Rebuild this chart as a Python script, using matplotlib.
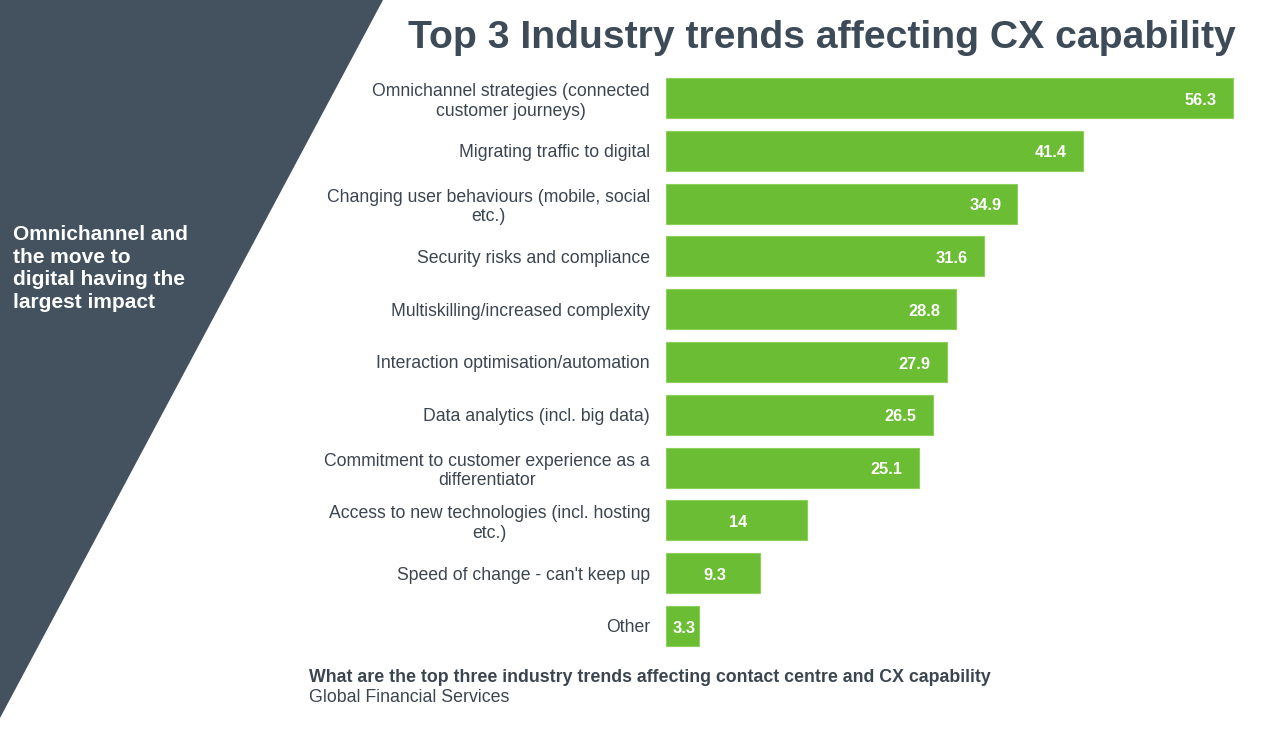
import matplotlib.pyplot as plt
from matplotlib.patches import Polygon

# Datos del gráfico
categorias = [
    'Omnichannel strategies (connected\ncustomer journeys)',
    'Migrating traffic to digital',
    'Changing user behaviours (mobile, social\netc.)',
    'Security risks and compliance',
    'Multiskilling/increased complexity',
    'Interaction optimisation/automation',
    'Data analytics (incl. big data)',
    'Commitment to customer experience as a\ndifferentiator',
    'Access to new technologies (incl. hosting\netc.)',
    "Speed of change - can't keep up",
    'Other',
]
valores = [56.3, 41.4, 34.9, 31.6, 28.8, 27.9, 26.5, 25.1, 14, 9.3, 3.3]

titulo = 'Top 3 Industry trends affecting CX capability'
lateral = 'Omnichannel and\nthe move to\ndigital having the\nlargest impact'
pregunta = 'What are the top three industry trends affecting contact centre and CX capability'
fuente = 'Global Financial Services'

plt.rcParams['font.family'] = ['Liberation Sans', 'DejaVu Sans']

W, H = 1280, 740
fig = plt.figure(figsize=(W / 100, H / 100), dpi=100)
fig.patch.set_facecolor('white')

oscuro = '#44525f'
texto = '#3b4550'
verde = '#6bbd33'

# Triángulo lateral
tri = Polygon([(0, 1), (383 / W, 1), (0, 1 - 718 / H)], closed=True,
              transform=fig.transFigure, facecolor=oscuro, edgecolor='none')
fig.patches.append(tri)

fig.text(13 / W, 1 - 225 / H, lateral, color='white', fontsize=15,
         fontweight='bold', va='top', ha='left', linespacing=1.24)

fig.text(1236 / W, 1 - 38 / H, titulo, color='#3d4a57', fontsize=28.2,
         fontweight='bold', ha='right', va='center')

ax = fig.add_axes([666 / W, 1 - 652.4 / H, 584 / W, 580.8 / H])
pos = list(range(len(valores)))
ax.barh(pos, valores, height=0.76, color=verde, edgecolor='#8cd05a', linewidth=0.8)
ax.set_xlim(0, 58.0)
ax.set_ylim(len(valores) - 0.5, -0.5)
ax.set_yticks(pos)
ax.set_yticklabels(categorias, fontsize=12.7, color=texto, linespacing=1.2)
for lbl in ax.get_yticklabels():
    lbl.set_multialignment('center')
ax.tick_params(axis='y', length=0, pad=11.5)
ax.set_xticks([])
for s in ax.spines.values():
    s.set_visible(False)

for p, v in zip(pos, valores):
    etiqueta = f'{v:g}'
    if v >= 20:
        ax.text(v - 1.6, p + 0.04, etiqueta, ha='right', va='center', color='white',
                fontsize=11.8, fontweight='bold')
    else:
        ax.text(v / 2 + 0.2, p + 0.04, etiqueta, ha='center', va='center', color='white',
                fontsize=11.8, fontweight='bold')

fig.text(309 / W, 1 - 677 / H, pregunta, color=texto, fontsize=12.8,
         fontweight='bold', ha='left', va='center')
fig.text(309 / W, 1 - 698 / H, fuente, color=texto, fontsize=12.75,
         ha='left', va='center')

fig.savefig('out.png', dpi=100)
